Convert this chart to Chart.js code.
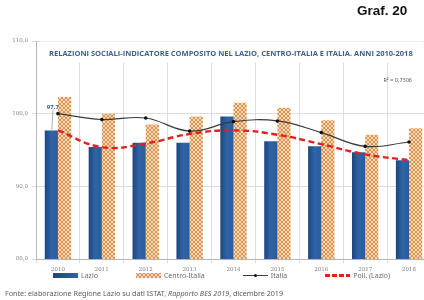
<!DOCTYPE html>
<html><head><meta charset="utf-8">
<script src="https://cdn.jsdelivr.net/npm/chart.js@4"></script>
<style>
html,body{margin:0;padding:0;width:424px;height:300px;overflow:hidden;background:#fff;}
#wrap{position:relative;width:424px;height:300px;overflow:hidden;}
#c{position:absolute;left:0;top:0;}
#graf{position:absolute;left:357px;top:3px;font:bold 13.5px "Liberation Sans",Arial,sans-serif;color:#111;}
#legend{position:absolute;left:53px;top:271px;display:flex;gap:38px;font:7px "Noto Sans",sans-serif;color:#6a6a6a;align-items:center;white-space:nowrap;}
.item{display:flex;align-items:center;gap:3px;height:9px;}
.sw{width:25px;height:5px;position:relative;}
#foot{position:absolute;left:5px;top:288px;font:7.2px "Noto Sans",sans-serif;color:#5a5a5a;white-space:nowrap;}
</style></head>
<body>
<div id="wrap">
<canvas id="c" width="440" height="300"></canvas>
<div id="graf">Graf. 20</div>
<div id="legend"></div>
<div id="foot">Fonte: elaborazione Regione Lazio su dati ISTAT, <i>Rapporto BES 2019</i>, dicembre 2019</div>
</div>
<script>
const years = ['2010','2011','2012','2013','2014','2015','2016','2017','2018'];
const lazio = [97.7, 95.4, 96.0, 96.0, 99.6, 96.2, 95.5, 94.7, 93.6];
const centroItalia = [102.3, 100.0, 98.5, 99.6, 101.5, 100.8, 99.1, 97.1, 98.0];
const italia = [100.0, 99.2, 99.4, 97.6, 98.9, 99.0, 97.4, 95.5, 96.1];
const poliLazio = [97.7, 95.4, 95.9, 97.2, 97.7, 97.1, 95.8, 94.4, 93.6];
const seriesNames = ['Lazio', 'Centro-Italia', 'Italia', 'Poli. (Lazio)'];
const yMin = 80, yMax = 110, yStep = 10;
const titleText = 'RELAZIONI SOCIALI-INDICATORE COMPOSITO NEL LAZIO, CENTRO-ITALIA E ITALIA. ANNI 2010-2018';
const r2Text = 'R² = 0,7306';

function fmt(v){ return v.toFixed(1).replace('.', ','); }

// hatch pattern for Centro-Italia
const tile = document.createElement('canvas'); tile.width = 4; tile.height = 4;
(function(){
  const g = tile.getContext('2d');
  g.fillStyle = '#f6dab6'; g.fillRect(0,0,4,4);
  g.fillStyle = '#dc9454';
  [[0,0],[1,1],[2,2],[3,3],[3,0],[2,1],[1,2],[0,3]].forEach(p => g.fillRect(p[0],p[1],1,1));
})();
const cv = document.getElementById('c');
const ctx0 = cv.getContext('2d');
const hatch = ctx0.createPattern(tile, 'repeat');

const BLUE = '#2b5d9c';
function blueFill(c){
  const ch = c.chart;
  const xs = ch.scales && ch.scales.x;
  if (!xs || c.dataIndex === undefined || !ch.chartArea) return BLUE;
  const cx = xs.getPixelForValue(c.dataIndex);
  const w = xs.width / years.length * 0.3;
  const g = ch.ctx.createLinearGradient(cx - w, 0, cx, 0);
  g.addColorStop(0, '#1d467f');
  g.addColorStop(0.5, '#2f64a6');
  g.addColorStop(1, '#2a5c9b');
  return g;
}

const overlay = {
  id: 'overlay',
  afterDatasetsDraw(chart){
    const {ctx, chartArea: a} = chart;
    ctx.save();
    // title box
    ctx.fillStyle = '#fff';
    ctx.fillRect(a.left + 4, a.top + 0.5, a.right - a.left - 12, 21);
    let fs = 7;
    ctx.font = 'bold ' + fs + 'px "Open Sans", sans-serif';
    const w = ctx.measureText(titleText).width;
    fs = fs * 364 / w;
    ctx.font = 'bold ' + fs.toFixed(2) + 'px "Open Sans", sans-serif';
    ctx.fillStyle = '#3f5f8d';
    ctx.textAlign = 'left'; ctx.textBaseline = 'middle';
    ctx.fillText(titleText, a.left + 13, a.top + 13);
    // R2
    ctx.font = '5.5px "Noto Sans", sans-serif';
    ctx.fillStyle = '#4d5570';
    ctx.textAlign = 'right';
    ctx.fillText(r2Text, a.right - 19, a.top + 39);
    // 97,7 label with leader
    const bar = chart.getDatasetMeta(0).data[0];
    ctx.strokeStyle = '#9a9a9a'; ctx.lineWidth = 0.8;
    ctx.beginPath(); ctx.moveTo(bar.x + 0.5, bar.y); ctx.lineTo(bar.x + 1.5, bar.y - 20); ctx.stroke();
    ctx.font = 'bold 6px "Open Sans", sans-serif';
    ctx.fillStyle = '#3a5a88';
    ctx.textAlign = 'center'; ctx.textBaseline = 'alphabetic';
    ctx.fillText(fmt(lazio[0]), bar.x + 1.5, bar.y - 21.5);
    ctx.restore();
  }
};

const chart = new Chart(cv, {
  data: {
    labels: years,
    datasets: [
      { type: 'bar', label: seriesNames[0], data: lazio, backgroundColor: blueFill, order: 3,
        categoryPercentage: 0.6, barPercentage: 1.0, borderWidth: 0 },
      { type: 'bar', label: seriesNames[1], data: centroItalia, backgroundColor: hatch, order: 3,
        categoryPercentage: 0.6, barPercentage: 1.0, borderWidth: 0 },
      { type: 'line', label: seriesNames[2], data: italia, borderColor: '#3a3a3a', borderWidth: 1.2,
        pointRadius: 1.8, pointBackgroundColor: '#111', pointBorderWidth: 0, tension: 0.4, order: 1 },
      { type: 'line', label: seriesNames[3], data: poliLazio, borderColor: '#e3201f', borderWidth: 2.4,
        borderDash: [6, 3.5], pointRadius: 0, tension: 0.45, order: 2 }
    ]
  },
  options: {
    responsive: false, animation: false,
    layout: { padding: { top: 41, right: 9, left: 0, bottom: 0 } },
    plugins: { legend: { display: false }, tooltip: { enabled: false }, title: { display: false } },
    scales: {
      x: {
        grid: { color: '#d6d6d6', lineWidth: 0.8, tickLength: 4, offset: true },
        border: { color: '#b5b5b5' },
        ticks: { font: { family: '"DejaVu Serif", serif', size: 5.5 }, color: '#808080', padding: 3, maxRotation: 0 },
        afterFit(s){ s.height = 41; }
      },
      y: {
        min: yMin, max: yMax,
        grid: { color: '#d6d6d6', lineWidth: 0.8, tickLength: 4 },
        border: { color: '#b5b5b5' },
        ticks: { stepSize: yStep, font: { family: '"DejaVu Serif", serif', size: 5.5 }, color: '#8a8a8a', padding: 4,
          callback: v => fmt(v) },
        afterFit(s){ s.width = 36; }
      }
    }
  },
  plugins: [overlay]
});

// HTML legend built from the datasets
const leg = document.getElementById('legend');
const hatchURL = tile.toDataURL();
chart.data.datasets.forEach((ds, i) => {
  const it = document.createElement('div'); it.className = 'item';
  const sw = document.createElement('div'); sw.className = 'sw';
  if (i === 0) { sw.style.background = 'linear-gradient(90deg,#1d467f,#2f64a6)'; }
  else if (i === 1) { sw.style.backgroundImage = 'url(' + hatchURL + ')'; }
  else if (i === 2) {
    sw.style.height = '5px';
    sw.innerHTML = '<div style="position:absolute;left:0;right:0;top:2px;height:1px;background:#3a3a3a"></div>' +
      '<div style="position:absolute;left:11px;top:0.7px;width:3.6px;height:3.6px;border-radius:50%;background:#111"></div>';
  } else {
    sw.style.height = '2.5px';
    sw.style.background = 'repeating-linear-gradient(90deg,#e3201f 0 5px,transparent 5px 7px)';
  }
  const tx = document.createElement('span'); tx.textContent = ds.label;
  it.appendChild(sw); it.appendChild(tx); leg.appendChild(it);
});
</script>
</body></html>
